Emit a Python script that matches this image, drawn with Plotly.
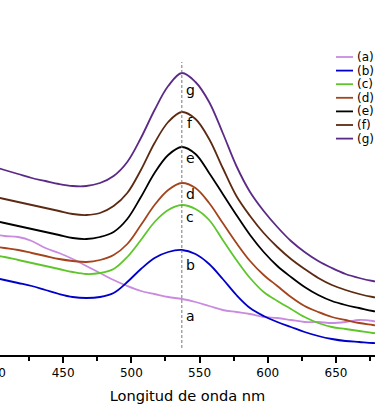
import plotly.graph_objects as go

# Wavelength (nm) sampling points
wavelength = [397, 407, 417, 427, 437, 447, 457, 467, 477, 487, 497, 507, 517, 527, 537,
              547, 557, 567, 577, 587, 597, 607, 617, 627, 637, 647, 657, 667, 677, 687]

# Absorbance (arbitrary units)
abs_a = [121, 119, 118, 114, 107, 102, 96, 89, 82, 75, 69, 64, 61, 58, 56,
         53, 49, 45, 43, 41, 38, 37, 35, 33, 33, 32, 33, 35, 34, 31]
abs_b = [78, 75, 72, 69, 65, 61, 58, 57, 58, 62, 73, 86, 97, 103, 105,
         101, 91, 76, 60, 47, 39, 33, 28, 23, 19, 16, 14, 13, 12, 12]
abs_c = [100, 98, 95, 92, 89, 86, 83, 81, 82, 86, 98, 115, 133, 145, 150,
         146, 135, 115, 95, 77, 63, 54, 46, 38, 32, 28, 26, 24, 22, 21]
abs_d = [109, 107, 105, 102, 99, 96, 94, 93, 95, 100, 111, 130, 150, 165, 172,
         167, 152, 132, 112, 94, 80, 69, 58, 49, 43, 38, 35, 32, 30, 28]
abs_e = [135, 132, 129, 126, 123, 120, 117, 116, 118, 123, 136, 158, 182, 200, 208,
         201, 182, 161, 140, 120, 103, 89, 78, 68, 60, 54, 50, 47, 44, 42]
abs_f = [159, 156, 153, 150, 147, 144, 141, 140, 142, 149, 162, 185, 212, 233, 243,
         236, 216, 187, 159, 139, 122, 108, 96, 86, 77, 70, 65, 61, 58, 56]
abs_g = [189, 185, 181, 177, 174, 171, 169, 169, 172, 179, 193, 217, 245, 269, 282,
         273, 253, 222, 189, 163, 144, 128, 114, 103, 94, 87, 81, 77, 74, 72]

series_names = ["(a)", "(b)", "(c)", "(d)", "(e)", "(f)", "(g)"]
series_values = [abs_a, abs_b, abs_c, abs_d, abs_e, abs_f, abs_g]
series_colors = ["#c98be0", "#0000c8", "#5ec62a", "#a3441c", "#000000", "#5c2a12", "#5b2a86"]

# Curve letter labels beside the peak line
label_text = ["a", "b", "c", "d", "e", "f", "g"]
label_y = [39, 90, 138, 161, 197, 232, 265]
label_x = 543

peak_nm = 537
peak_line_y = [7, 293]

x_ticks = [400, 450, 500, 550, 600, 650]
x_range = [403.7, 678.6]
y_range = [0, 355]

FONT = "DejaVu Sans, Arial, sans-serif"
W, H = 375, 418
MB = 63
PLOT_H = H - MB

fig = go.Figure()
for name, vals, col in zip(series_names, series_values, series_colors):
    fig.add_trace(go.Scatter(
        x=wavelength, y=vals, name=name, mode="lines", showlegend=False,
        line=dict(color=col, width=1.8, shape="spline", smoothing=1.0),
    ))

for t, yv in zip(label_text, label_y):
    fig.add_annotation(x=label_x, y=yv, text=t, showarrow=False,
                       font=dict(family=FONT, size=14, color="black"))

fig.add_shape(type="line", x0=peak_nm, x1=peak_nm, y0=peak_line_y[0], y1=peak_line_y[1],
              xref="x", yref="y", line=dict(color="#777777", width=1, dash="3px,2px"))

# Tick label at 400 (just outside the visible range, partially clipped like the original)
x400_paper = (x_ticks[0] - x_range[0]) / (x_range[1] - x_range[0])
fig.add_annotation(x=x400_paper, y=0, xref="paper", yref="paper", xanchor="center", yanchor="top",
                   yshift=-9, text=str(x_ticks[0]), showarrow=False,
                   font=dict(family=FONT, size=12, color="black"))

# Compact legend (line sample + name) in the upper right corner
leg_top_px, leg_step_px = 57, 13.6
leg_x0, leg_x1, leg_tx = 336 / W, 353 / W, 355 / W
for i, (name, col) in enumerate(zip(series_names, series_colors)):
    yp = (PLOT_H - (leg_top_px + i * leg_step_px)) / PLOT_H
    fig.add_shape(type="line", xref="paper", yref="paper", x0=leg_x0, x1=leg_x1, y0=yp, y1=yp,
                  line=dict(color=col, width=1.8))
    fig.add_annotation(xref="paper", yref="paper", x=leg_tx, y=yp, xanchor="left", yanchor="middle",
                       text=name, showarrow=False, font=dict(family=FONT, size=12, color="black"))

fig.update_layout(
    width=W, height=H,
    margin=dict(l=0, r=0, t=0, b=MB, autoexpand=False),
    paper_bgcolor="white", plot_bgcolor="white",
    font=dict(family=FONT, color="black"),
    showlegend=False,
)
fig.update_xaxes(
    range=x_range, tickmode="array", tickvals=x_ticks,
    showline=True, linecolor="black", linewidth=1.5,
    ticks="outside", ticklen=6, tickwidth=1.5, tickcolor="black",
    tickfont=dict(family=FONT, size=12, color="black"),
    minor=dict(dtick=25, tick0=400, ticks="outside", ticklen=4, tickwidth=1.5, tickcolor="black"),
    showgrid=False, zeroline=False,
    title=dict(text="Longitud de onda nm", font=dict(family=FONT, size=14.6, color="black"), standoff=12),
)
fig.update_yaxes(range=y_range, visible=False, showgrid=False, zeroline=False)

fig.write_html("out.html", config={"displayModeBar": False},
               post_script="document.body.style.margin='0px';")
